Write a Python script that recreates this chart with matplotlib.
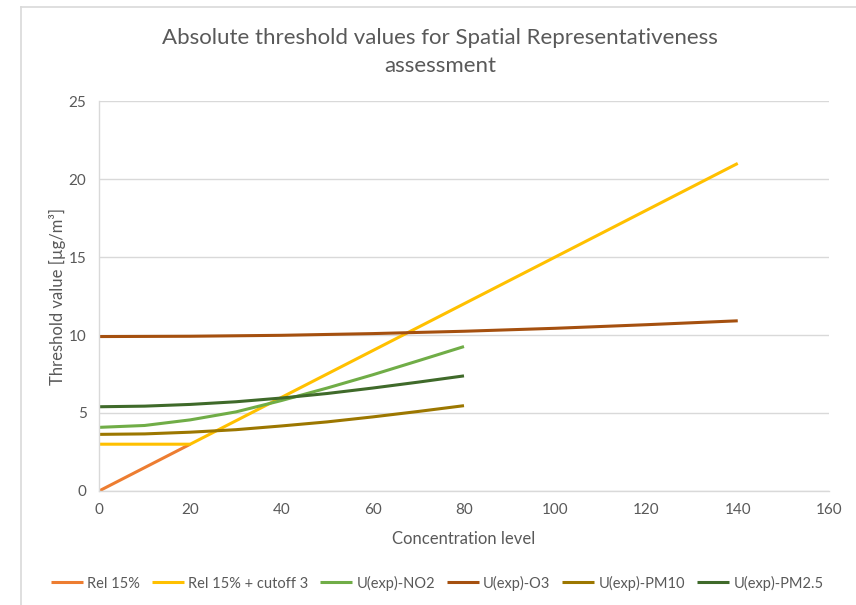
import matplotlib
matplotlib.use("Agg")
import matplotlib.pyplot as plt
from matplotlib.lines import Line2D

plt.rcParams['font.family'] = ['Lato', 'DejaVu Sans']

# Data
x_rel = [0, 10, 20]
rel15 = [0.0, 1.5, 3.0]

x_cut = [0, 20, 40, 60, 80, 100, 120, 140]
rel15_cut = [3.0, 3.0, 6.0, 9.0, 12.0, 15.0, 18.0, 21.0]

x_u = [0, 10, 20, 30, 40, 50, 60, 70, 80]
u_no2 = [4.08, 4.20, 4.56, 5.07, 5.80, 6.60, 7.45, 8.35, 9.26]
u_pm10 = [3.63, 3.66, 3.77, 3.93, 4.17, 4.43, 4.75, 5.10, 5.47]
u_pm25 = [5.40, 5.44, 5.55, 5.72, 5.96, 6.25, 6.60, 6.98, 7.38]

x_o3 = [0, 20, 40, 60, 80, 100, 120, 140]
u_o3 = [9.90, 9.92, 9.98, 10.09, 10.24, 10.43, 10.66, 10.91]

x_ticks = [0, 20, 40, 60, 80, 100, 120, 140, 160]
y_ticks = [0, 5, 10, 15, 20, 25]

series = [
    ("Rel 15%", x_rel, rel15, "#ED7D31"),
    ("Rel 15% + cutoff 3", x_cut, rel15_cut, "#FFC000"),
    ("U(exp)-NO2", x_u, u_no2, "#70AD47"),
    ("U(exp)-O3", x_o3, u_o3, "#A5500F"),
    ("U(exp)-PM10", x_u, u_pm10, "#9C7700"),
    ("U(exp)-PM2.5", x_u, u_pm25, "#3F6A2A"),
]

W, H = 856, 605
fig = plt.figure(figsize=(W / 100, H / 100), dpi=100)
ax = fig.add_axes([99 / W, 1 - 491 / H, (829 - 99) / W, (491 - 101) / H])

# chart border (light grey frame, partially visible)
fig.add_artist(Line2D([21 / W, 21 / W], [0, 1 - 7 / H], transform=fig.transFigure, color="#D9D9D9", lw=1.2))
fig.add_artist(Line2D([21 / W, 1], [1 - 7 / H, 1 - 7 / H], transform=fig.transFigure, color="#D9D9D9", lw=1.2))

for name, xs, ys, c in series:
    ax.plot(xs, ys, color=c, lw=2.2, label=name, solid_capstyle="butt")

ax.set_xlim(0, 160)
ax.set_ylim(0, 25)
ax.set_xticks(x_ticks)
ax.set_yticks(y_ticks)
ax.grid(axis="y", color="#D9D9D9", lw=1.0)
ax.grid(axis="x", visible=False)
ax.set_axisbelow(True)
for s in ["top", "right"]:
    ax.spines[s].set_visible(False)
for s in ["left", "bottom"]:
    ax.spines[s].set_color("#D9D9D9")
    ax.spines[s].set_linewidth(1.0)
ax.tick_params(length=0, labelsize=11, labelcolor="#595959", pad=9)

ax.set_xlabel("Concentration level", fontsize=12, color="#595959", labelpad=10)
ax.set_ylabel("Threshold value [µg/m³]", fontsize=12, color="#595959", labelpad=2)

fig.text(440 / W, 1 - 38 / H, "Absolute threshold values for Spatial Representativeness",
         ha="center", va="center", fontsize=16, color="#595959")
fig.text(440 / W, 1 - 66 / H, "assessment",
         ha="center", va="center", fontsize=16, color="#595959")

leg = fig.legend(loc="center", bbox_to_anchor=(437 / W, 1 - 583 / H), ncol=6, frameon=False,
                 fontsize=10.5, handlelength=2.2, handletextpad=0.3, columnspacing=0.8,
                 labelcolor="#595959")

fig.savefig("out.png", dpi=100)
